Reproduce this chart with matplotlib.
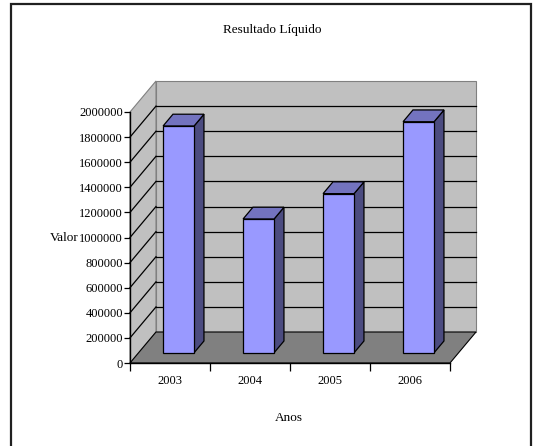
import matplotlib
matplotlib.use("Agg")
import matplotlib.pyplot as plt
from matplotlib.patches import Polygon, Rectangle
from matplotlib.ticker import FuncFormatter, FixedLocator

# data
anos = ["2003", "2004", "2005", "2006"]
valores = [1807000, 1066000, 1268000, 1841000]
y_ticks = list(range(0, 2000001, 200000))

title = "Resultado Líquido"
x_label = "Anos"
y_label = "Valor"

# 3d look (depth offset in data units)
DX = 0.325
DY = 247000
BAR_W = 0.3875
D0, D1 = 0.33, 0.71  # bar front/back depth fraction

plt.rcParams["font.family"] = ["Liberation Serif", "DejaVu Serif"]

W, H = 533, 446
fig = plt.figure(figsize=(W / 100, H / 100), dpi=100)
ax = fig.add_axes([130 / W, (H - 363) / H, 320 / W, 251 / H])

n = len(anos)
ymax = y_ticks[-1]
ax.set_xlim(0, n)
ax.set_ylim(0, ymax)

# walls and floor
floor = Polygon([(0, 0), (n, 0), (n + DX, DY), (DX, DY)], closed=True,
                facecolor="#808080", edgecolor="#000000", lw=0.8,
                zorder=1, clip_on=False)
back = Polygon([(DX, DY), (n + DX, DY), (n + DX, ymax + DY), (DX, ymax + DY)],
               closed=True, facecolor="#c0c0c0", edgecolor="#808080", lw=0.8,
               zorder=0.5, clip_on=False)
side = Polygon([(0, 0), (DX, DY), (DX, ymax + DY), (0, ymax)], closed=True,
               facecolor="#c0c0c0", edgecolor="#808080", lw=0.8,
               zorder=0.5, clip_on=False)
for p in (back, side, floor):
    ax.add_patch(p)

# gridlines on walls
for v in y_ticks[1:-1]:
    ax.plot([DX, n + DX], [v + DY, v + DY], color="black", lw=0.9,
            zorder=0.8, clip_on=False)
    ax.plot([0, DX], [v, v + DY], color="black", lw=0.9,
            zorder=0.8, clip_on=False)

# bars
for i, v in enumerate(valores):
    x0 = i + 0.5 - BAR_W / 2 + D0 * DX
    y0 = D0 * DY
    ddx = (D1 - D0) * DX
    ddy = (D1 - D0) * DY
    front = [(x0, y0), (x0 + BAR_W, y0), (x0 + BAR_W, y0 + v), (x0, y0 + v)]
    right = [(x0 + BAR_W, y0), (x0 + BAR_W + ddx, y0 + ddy),
             (x0 + BAR_W + ddx, y0 + v + ddy), (x0 + BAR_W, y0 + v)]
    top = [(x0, y0 + v), (x0 + BAR_W, y0 + v),
           (x0 + BAR_W + ddx, y0 + v + ddy), (x0 + ddx, y0 + v + ddy)]
    for pts, col in ((right, "#4c4c80"), (top, "#7373bf"), (front, "#9999ff")):
        ax.add_patch(Polygon(pts, closed=True, facecolor=col,
                             edgecolor="black", lw=0.9, zorder=3,
                             clip_on=False))

# axes styling
ax.set_facecolor("none")
for s in ("top", "right"):
    ax.spines[s].set_visible(False)
for s in ("left", "bottom"):
    ax.spines[s].set_color("black")
    ax.spines[s].set_linewidth(1.0)
    ax.spines[s].set_zorder(4)

ax.yaxis.set_major_locator(FixedLocator(y_ticks))
ax.yaxis.set_major_formatter(FuncFormatter(lambda v, p: f"{int(v)}"))
ax.tick_params(axis="y", direction="out", length=4, width=0.9, pad=1,
               labelsize=9)

ax.set_xticks(range(n + 1))
ax.set_xticklabels([])
ax.set_xticks([i + 0.5 for i in range(n)], minor=True)
ax.set_xticklabels(anos, minor=True)
ax.tick_params(axis="x", which="major", direction="out", length=6, width=0.9)
ax.tick_params(axis="x", which="minor", length=0, pad=9, labelsize=9)

ax.set_ylabel(y_label, rotation=0, fontsize=9.5, ha="center", va="center")
ax.yaxis.set_label_coords(-0.206, 0.498)
ax.set_xlabel(x_label, fontsize=9.5, ha="center", va="center")
ax.xaxis.set_label_coords(0.497, -0.219)

fig.text(272 / W, 1 - 30 / H, title, ha="center", va="center", fontsize=9.5)

# chart frame
fig.patches.append(Rectangle((11 / W, -0.05), (531 - 11) / W, (H - 4) / H + 0.05,
                             transform=fig.transFigure, fill=False,
                             edgecolor="#202020", lw=1.6, zorder=10))

fig.savefig("out.png", dpi=100)
